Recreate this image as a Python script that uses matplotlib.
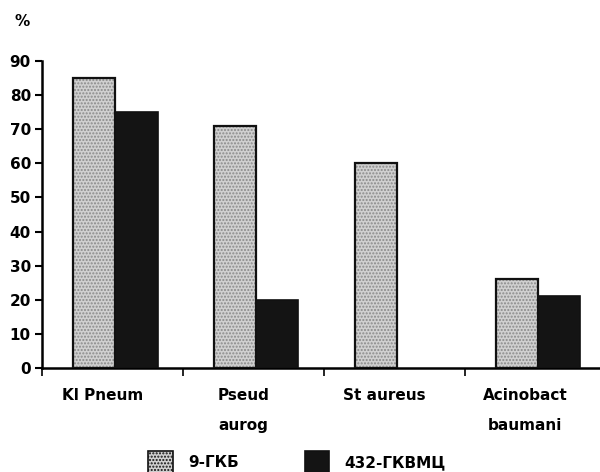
import numpy as np
import matplotlib
matplotlib.use("Agg")
import matplotlib.pyplot as plt
from matplotlib.patches import Patch

categories = ["Kl Pneum", "Pseud\naurog", "St aureus", "Acinobact\nbaumani"]
series_names = ["9-ГКБ", "432-ГКВМЦ"]
values_9gkb = [85, 71, 60, 26]
values_432 = [75, 20, 0, 21]
yticks = [0, 10, 20, 30, 40, 50, 60, 70, 80, 90]

plt.rcParams['font.family'] = ['DejaVu Sans']
plt.rcParams['font.weight'] = 'bold'

fig = plt.figure(figsize=(6.0, 4.72), dpi=100)
ax = fig.add_axes([0.07, 0.2203, 0.93, 0.6505])

x = np.arange(len(categories))
w = 0.30
gray_x = x + 0.37
black_x = x + 0.67

# gray dotted bars: fill with texture, then black outline
ax.bar(gray_x, values_9gkb, w, color='#d0d0d0', edgecolor='#8a8a8a',
       hatch='.....', linewidth=0, zorder=2)
ax.bar(gray_x, values_9gkb, w, facecolor='none', edgecolor='#111111',
       linewidth=1.6, zorder=3)
vals_b = np.array(values_432, dtype=float)
mask = vals_b > 0
ax.bar(black_x[mask], vals_b[mask], w, color='#141414', edgecolor='#111111',
       linewidth=1.2, zorder=3)

ax.set_ylim(0, 90)
ax.set_xlim(0, 3.96)
ax.set_yticks(yticks)
ax.set_yticklabels([str(v) for v in yticks], fontsize=11, fontweight='bold')
ax.set_xticks(x)
ax.set_xticklabels([])
ax.tick_params(axis='y', direction='out', length=5, width=1.5, pad=3)
ax.tick_params(axis='x', direction='out', length=6, width=1.2)

for xi, lab in zip(x + 0.43, categories):
    ax.text(xi, -0.065, lab, transform=ax.get_xaxis_transform(),
            ha='center', va='top', fontsize=11, fontweight='bold',
            linespacing=2.25)

for s in ['top', 'right']:
    ax.spines[s].set_visible(False)
ax.spines['left'].set_linewidth(1.8)
ax.spines['bottom'].set_linewidth(1.8)

fig.text(0.037, 0.955, "%", fontsize=11, fontweight='bold', ha='center', va='center')

handles = [Patch(facecolor='#d0d0d0', edgecolor='#111111', hatch='.....', linewidth=1.2),
           Patch(facecolor='#141414', edgecolor='#111111', linewidth=1.2)]
fig.legend(handles, series_names, loc='center', bbox_to_anchor=(0.495, 0.02),
           ncol=2, frameon=False, handlelength=1.6, handleheight=1.9,
           handletextpad=1.0, columnspacing=4.3, prop={'weight': 'bold', 'size': 11})

fig.savefig("out.png", dpi=100, facecolor='white')
